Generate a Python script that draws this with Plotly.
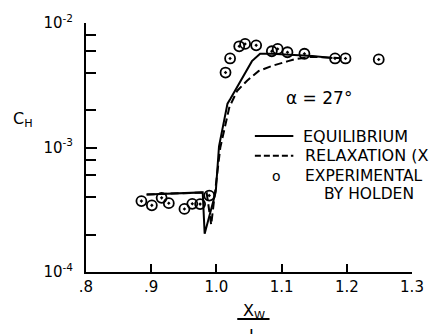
import plotly.graph_objects as go

# Equilibrium solution (solid line)
eq_x = [0.893, 0.935, 0.979, 0.982, 0.999, 1.004, 1.009, 1.017, 1.0215, 1.0345,
        1.0395, 1.0495, 1.0545, 1.067, 1.085, 1.147, 1.178]
eq_y = [4.20e-4, 4.30e-4, 4.36e-4, 2.03e-4, 4.4e-4, 1.02e-3, 1.38e-3, 2.25e-3, 2.46e-3, 3.24e-3,
        3.65e-3, 4.39e-3, 4.94e-3, 5.66e-3, 5.66e-3, 5.42e-3, 5.23e-3]

# Relaxation solution (dashed line)
rel_x = [0.893, 0.985, 0.992, 0.998, 1.006, 1.012, 1.020, 1.032, 1.047, 1.065,
         1.085, 1.110, 1.122, 1.147, 1.198]
rel_y = [4.20e-4, 4.36e-4, 2.40e-4, 4.4e-4, 1.0e-3, 1.38e-3, 2.12e-3, 2.86e-3, 3.44e-3, 4.12e-3,
         4.52e-3, 4.94e-3, 5.14e-3, 5.36e-3, 5.19e-3]

# Experimental data by Holden
exp_x = [0.885, 0.901, 0.916, 0.927, 0.951, 0.963, 0.975, 0.989,
         1.014, 1.021, 1.035, 1.044, 1.061, 1.085, 1.094, 1.109, 1.135, 1.182, 1.198, 1.249]
exp_y = [3.71e-4, 3.43e-4, 3.94e-4, 3.57e-4, 3.21e-4, 3.53e-4, 3.51e-4, 4.11e-4,
         4.0e-3, 5.19e-3, 6.5e-3, 6.79e-3, 6.62e-3, 5.93e-3, 6.19e-3, 5.82e-3, 5.66e-3, 5.19e-3, 5.19e-3, 5.1e-3]

x_ticks = [0.8, 0.9, 1.0, 1.1, 1.2, 1.3]
x_labels = [".8", ".9", "1.0", "1.1", "1.2", "1.3"]
y_ticks = [1e-4, 1e-3, 1e-2]
y_labels = ["10<sup>-4</sup>", "10<sup>-3</sup>", "10<sup>-2</sup>"]
y_minor = [2e-4, 4e-4, 6e-4, 8e-4, 2e-3, 4e-3, 6e-3, 8e-3]

FONT = "DejaVu Sans"
fig = go.Figure()
fig.add_trace(go.Scatter(x=eq_x, y=eq_y, mode="lines",
                         line=dict(color="black", width=2)))
fig.add_trace(go.Scatter(x=rel_x, y=rel_y, mode="lines",
                         line=dict(color="black", width=2, dash="8px,4px")))
fig.add_trace(go.Scatter(x=exp_x, y=exp_y, mode="markers",
                         marker=dict(symbol="circle-open-dot", size=10, color="black",
                                     line=dict(width=1.8, color="black"))))

fig.update_layout(
    width=436, height=334,
    margin=dict(l=86, r=18, t=18, b=62),
    paper_bgcolor="white", plot_bgcolor="white",
    showlegend=False,
    font=dict(family=FONT, color="black", size=15),
    xaxis=dict(range=[0.8, 1.3], tickvals=x_ticks, ticktext=x_labels,
               ticks="inside", ticklen=8, tickwidth=2, tickcolor="black",
               showline=True, linecolor="black", linewidth=2,
               showgrid=False, zeroline=False, tickfont=dict(size=15)),
    yaxis=dict(type="log", range=[-4, -2], tickvals=y_ticks, ticktext=y_labels,
               ticks="inside", ticklen=11, tickwidth=2, tickcolor="black",
               showline=True, linecolor="black", linewidth=2,
               showgrid=False, zeroline=False, tickfont=dict(size=15),
               ticklabelstandoff=8,
               minor=dict(tickvals=y_minor, ticks="inside", ticklen=10,
                          tickwidth=2, tickcolor="black", showgrid=False)),
)

def note(text, x, y, size=16, xanchor="left", yanchor="middle"):
    fig.add_annotation(text=text, x=x, y=y, xref="paper", yref="paper",
                       showarrow=False, xanchor=xanchor, yanchor=yanchor,
                       font=dict(family=FONT, size=size, color="black"))

# axis titles
note("C<sub>H</sub>", -0.193, 0.614, size=16, xanchor="center")
note("X<sub>W</sub>", 0.515, -0.157, size=16, xanchor="center")
note("L", 0.515, -0.207, size=16, xanchor="center", yanchor="top")
fig.add_shape(type="line", xref="paper", yref="paper", x0=0.464, x1=0.563,
              y0=-0.189, y1=-0.189, line=dict(color="black", width=2))

# angle of attack label
note("α = 27°", 0.606, 0.697, size=17)

# legend
fig.add_shape(type="line", xref="paper", yref="paper", x0=0.518, x1=0.636,
              y0=0.546, y1=0.546, line=dict(color="black", width=2))
fig.add_shape(type="line", xref="paper", yref="paper", x0=0.518, x1=0.636,
              y0=0.467, y1=0.467, line=dict(color="black", width=2, dash="6px,3px"))
note("EQUILIBRIUM", 0.66, 0.546)
note("RELAXATION (X", 0.665, 0.467)
note("o", 0.584, 0.387, size=14, xanchor="center")
note("EXPERIMENTAL", 0.665, 0.385, size=15.5)
note("BY HOLDEN", 0.725, 0.312, size=15.5)

fig.write_html("out.html")
